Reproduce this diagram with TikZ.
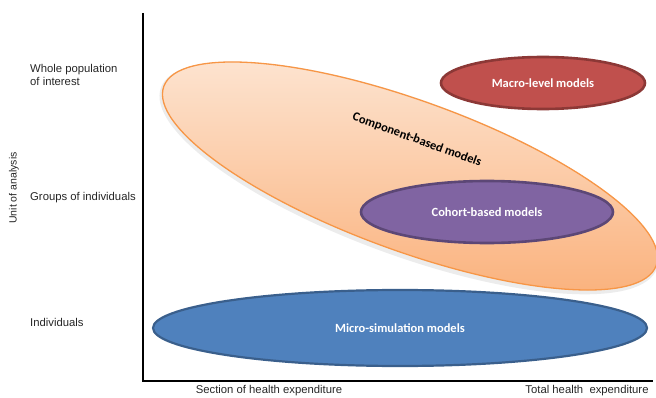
\documentclass[tikz,border=0pt]{standalone}
\usepackage{fontspec}
\setmainfont{Liberation Sans}
\newfontfamily\calfont{Carlito}
\usetikzlibrary{shapes.geometric}
\definecolor{macrofill}{HTML}{C0504D}
\definecolor{macroline}{HTML}{8C3836}
\definecolor{cohortfill}{HTML}{8064A2}
\definecolor{cohortline}{HTML}{5C4776}
\definecolor{microfill}{HTML}{4F81BD}
\definecolor{microline}{HTML}{3A5F8C}
\definecolor{compline}{HTML}{F79646}
\definecolor{comptop}{HTML}{FDE6D4}
\definecolor{compbot}{HTML}{FAB07A}
\tikzset{
  axislabel/.style={font=\fontsize{11.3}{13.5}\selectfont, text=black!85, inner sep=0pt},
  modelbox/.style={ellipse, inner sep=0pt, font=\calfont\bfseries\fontsize{12.5}{14}\selectfont, text=white},
  axisline/.style={line width=1.4pt, black}
}
\begin{document}
\begin{tikzpicture}[x=1pt,y=-1pt]
\useasboundingbox (0,0) rectangle (656,398);
% axes
\coordinate (top) at (143,13);
\coordinate (origin) at (143,381);
\coordinate (right) at (653,381);
% component-based ellipse shadow
\node[ellipse, minimum width=528pt, minimum height=156pt, rotate=-20, fill=black!25, opacity=0.3, inner sep=0pt] (compshadow) at (409,178) {};
% component-based ellipse
\node[ellipse, minimum width=524pt, minimum height=150pt, rotate=-20, inner sep=0pt,
      top color=comptop, bottom color=compbot, draw=compline, line width=1.3pt] (comp) at (410,176) {};
\node[font=\calfont\bfseries\fontsize{12.5}{14}\selectfont, rotate=-20, inner sep=0pt] (complabel) at (417,140) {Component-based models};
% macro
\node[modelbox, minimum width=204pt, minimum height=52pt, fill=macrofill, draw=macroline, line width=2.6pt] (macro) at (543,83) {Macro-level models};
% cohort
\node[modelbox, minimum width=252pt, minimum height=62pt, fill=cohortfill, draw=cohortline, line width=2.6pt] (cohort) at (487,212) {Cohort-based models};
% micro
\node[modelbox, minimum width=494pt, minimum height=76pt, fill=microfill, draw=microline, line width=2.2pt] (micro) at (400,328) {Micro-simulation models};
% axes lines
\draw[axisline] (top) -- (origin) -- (right);
% axis labels
\node[axislabel, anchor=west, align=left] (whole) at (30,75) {Whole population\\of interest};
\node[axislabel, anchor=west] (groups) at (30,198) {Groups of individuals};
\node[axislabel, anchor=west] (indiv) at (30,322) {Individuals};
\node[axislabel, rotate=90, font=\fontsize{10.5}{12}\selectfont] (unit) at (14,188) {Unit of analysis};
\node[axislabel] (section) at (269,391) {Section of health expenditure};
\node[axislabel] (total) at (587,391) {Total health\ \ expenditure};
\end{tikzpicture}
\end{document}
